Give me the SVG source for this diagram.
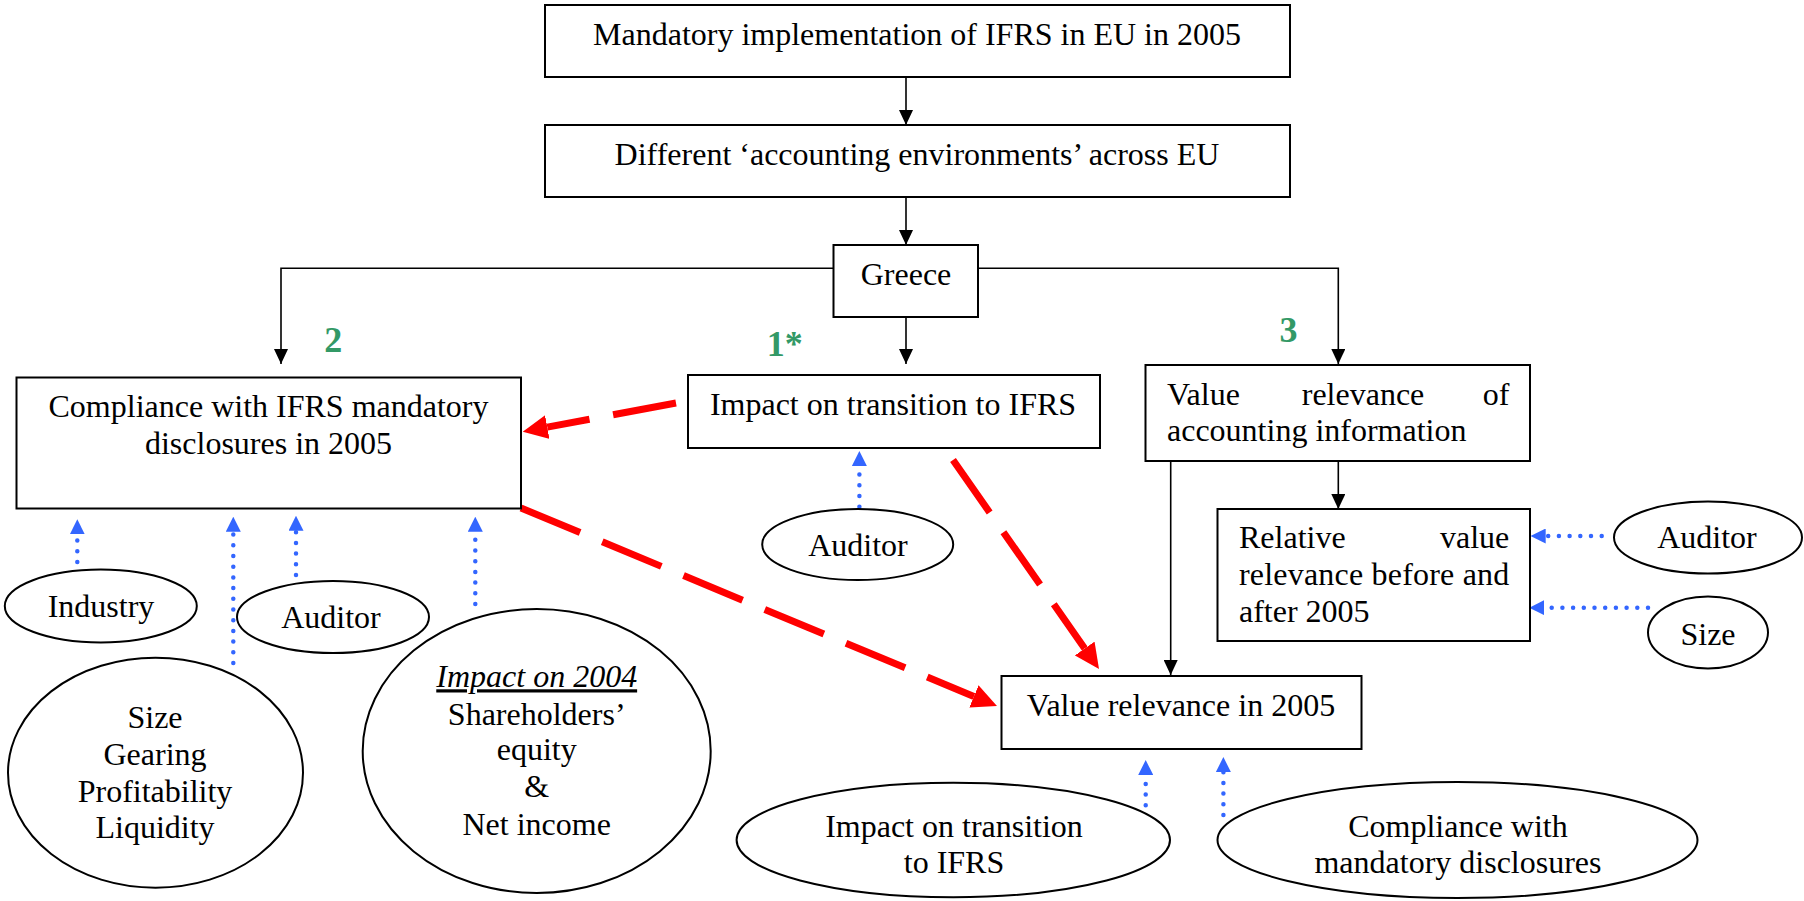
<svg xmlns="http://www.w3.org/2000/svg" width="1804" height="901" viewBox="0 0 1804 901">
<style>
text{font-family:"Liberation Serif","Times New Roman",serif;font-size:32px;fill:#000}
.box{fill:#fff;stroke:#000;stroke-width:2}
.ell{fill:#fff;stroke:#000;stroke-width:2}
.c{text-anchor:middle}
.e{text-anchor:end}
.num{font-weight:bold;font-size:36px;fill:#339966}
.blk{fill:none;stroke:#000;stroke-width:1.6;marker-end:url(#ab)}
.red{fill:none;stroke:#ff0000;stroke-width:7;stroke-dasharray:64 24;marker-end:url(#ar)}
.blu{fill:none;stroke:#3366ff;stroke-width:4.5;stroke-linecap:round;stroke-dasharray:0 10.7;marker-end:url(#au)}
</style>
<defs>
<marker id="ab" markerUnits="userSpaceOnUse" viewBox="0 0 15 14" refX="15" refY="7" markerWidth="15" markerHeight="14" orient="auto"><path d="M0,0L15,7L0,14z" fill="#000"/></marker>
<marker id="ar" markerUnits="userSpaceOnUse" viewBox="0 0 25 24" refX="0" refY="12" markerWidth="25" markerHeight="24" orient="auto"><path d="M0,0L25,12L0,24z" fill="#ff0000"/></marker>
<marker id="au" markerUnits="userSpaceOnUse" viewBox="0 0 15 15" refX="0" refY="7.5" markerWidth="15" markerHeight="15" orient="auto"><path d="M0,0L15,7.5L0,15z" fill="#3366ff"/></marker>
</defs>

<g id="connectors">
<path class="blk" d="M906,77V125"/>
<path class="blk" d="M906,197V245"/>
<path class="blk" d="M906,317V364"/>
<path class="blk" d="M833.5,268.3H281V364"/>
<path class="blk" d="M978,268.3H1338.3V364"/>
<path class="blk" d="M1338.3,461V509"/>
<path class="blk" d="M1170.7,461V675"/>
<path class="red" d="M676,403L547.3,427.1"/>
<path class="red" d="M521,508L973.9,696.4"/>
<path class="red" d="M953,460L1084.7,648.5"/>
<path class="blu" d="M77.3,562V534.3"/>
<path class="blu" d="M233.3,663V531.7"/>
<path class="blu" d="M296,575V530.7"/>
<path class="blu" d="M475.3,604V531.7"/>
<path class="blu" d="M859.4,506.7V466"/>
<path class="blu" d="M1145.7,816V775"/>
<path class="blu" d="M1223.4,815V772"/>
<path class="blu" d="M1601.7,536H1545.7"/>
<path class="blu" d="M1648,607.7H1544.3"/>
</g>

<g id="n-mandatory"><rect class="box" x="545" y="5" width="745" height="72"/><text class="c" x="917" y="45">Mandatory implementation of IFRS in EU in 2005</text></g>
<g id="n-different"><rect class="box" x="545" y="125" width="745" height="72"/><text class="c" x="917" y="165">Different ‘accounting environments’ across EU</text></g>
<g id="n-greece"><rect class="box" x="833.5" y="245" width="144.5" height="72"/><text class="c" x="906" y="285">Greece</text></g>
<g id="n-compliance"><rect class="box" x="16.5" y="377.5" width="504.5" height="131"/><text class="c" x="268.5" y="417.3">Compliance with IFRS mandatory</text><text class="c" x="268.5" y="454.3">disclosures in 2005</text></g>
<g id="n-impact"><rect class="box" x="688" y="375" width="412" height="73"/><text class="c" x="893" y="415">Impact on transition to IFRS</text></g>
<g id="n-vr"><rect class="box" x="1145.5" y="365" width="384.5" height="96"/><text x="1167" y="405">Value</text><text class="c" x="1363" y="405">relevance</text><text class="e" x="1509.3" y="405">of</text><text x="1167" y="441">accounting information</text></g>
<g id="n-relative"><rect class="box" x="1217.5" y="509" width="312.5" height="132"/><text x="1239" y="548.3">Relative</text><text class="e" x="1509.3" y="548.3">value</text><text x="1239" y="585" textLength="270.3" lengthAdjust="spacing">relevance before and</text><text x="1239" y="621.7">after 2005</text></g>
<g id="n-vr2005"><rect class="box" x="1001.5" y="676" width="360" height="73"/><text class="c" x="1181" y="715.7">Value relevance in 2005</text></g>

<g id="n-industry"><ellipse class="ell" cx="100.8" cy="606" rx="96" ry="36.5"/><text class="c" x="101" y="616.7">Industry</text></g>
<g id="n-auditor-l"><ellipse class="ell" cx="333" cy="617" rx="96" ry="36"/><text class="c" x="331" y="628">Auditor</text></g>
<g id="n-size-l"><ellipse class="ell" cx="155.5" cy="772.7" rx="147.5" ry="115"/><text class="c" x="155" y="727.7">Size</text><text class="c" x="155" y="765">Gearing</text><text class="c" x="155" y="801.7">Profitability</text><text class="c" x="155" y="838.3">Liquidity</text></g>
<g id="n-impact2004"><ellipse class="ell" cx="536.7" cy="751" rx="174" ry="142"/><text class="c" x="536.7" y="687.3" font-style="italic" text-decoration="underline">Impact on 2004</text><text class="c" x="536.7" y="725">Shareholders’</text><text class="c" x="536.7" y="760">equity</text><text class="c" x="536.7" y="796.7">&amp;</text><text class="c" x="536.7" y="835">Net income</text></g>
<g id="n-auditor-m"><ellipse class="ell" cx="857.7" cy="544.5" rx="95.5" ry="35.5"/><text class="c" x="858" y="556">Auditor</text></g>
<g id="n-impact-b"><ellipse class="ell" cx="953.3" cy="840" rx="216.7" ry="57.3"/><text class="c" x="954" y="836.7">Impact on transition</text><text class="c" x="954" y="873.3">to IFRS</text></g>
<g id="n-compliance-b"><ellipse class="ell" cx="1457.5" cy="840" rx="240" ry="58"/><text class="c" x="1458" y="836.7">Compliance with</text><text class="c" x="1458" y="873">mandatory disclosures</text></g>
<g id="n-auditor-r"><ellipse class="ell" cx="1708" cy="537.5" rx="94" ry="36"/><text class="c" x="1707" y="548">Auditor</text></g>
<g id="n-size-r"><ellipse class="ell" cx="1708" cy="632.5" rx="60" ry="36"/><text class="c" x="1708" y="645">Size</text></g>

<g id="labels"><text class="num" x="324.3" y="351.7">2</text><text class="num" x="766.7" y="356">1*</text><text class="num" x="1279.4" y="341.7">3</text></g>
</svg>
